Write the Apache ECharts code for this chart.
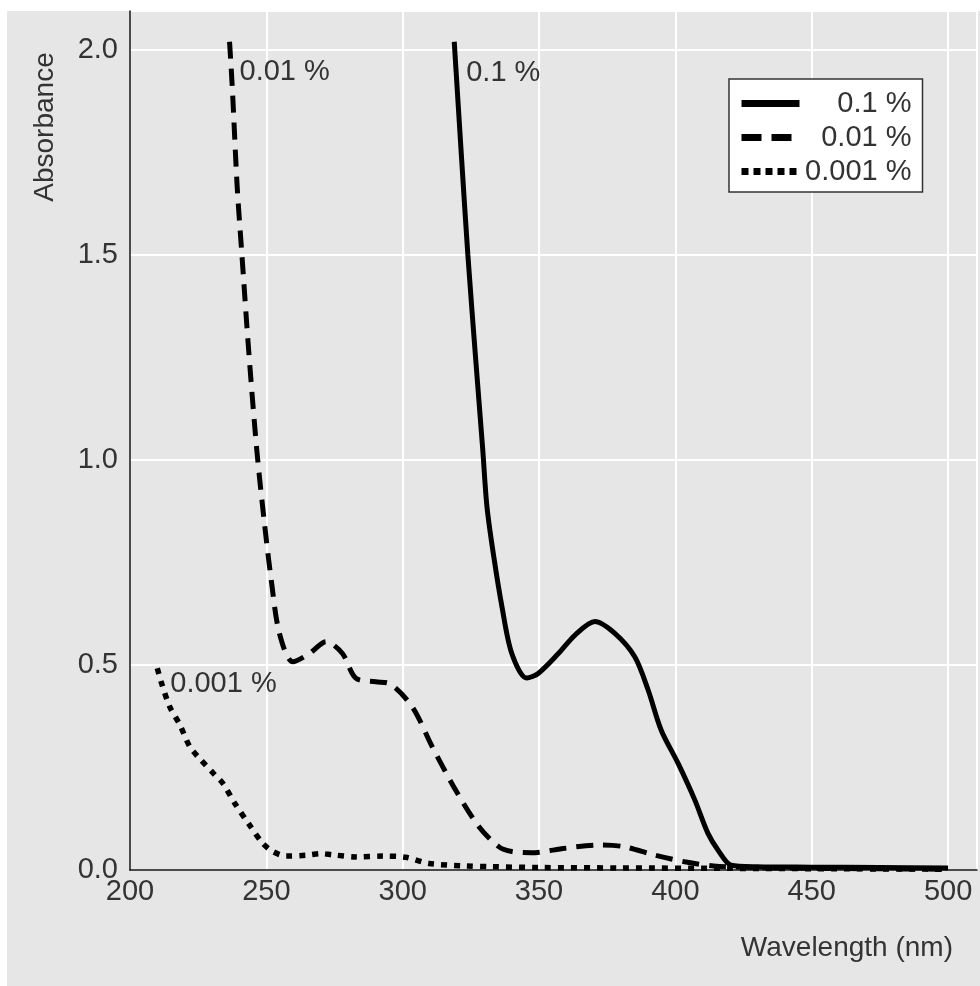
<!DOCTYPE html>
<html>
<head>
<meta charset="utf-8">
<script src="https://cdn.jsdelivr.net/npm/echarts@6/dist/echarts.min.js"></script>
<style>
html,body{margin:0;padding:0;background:#fff;}
#chart{width:980px;height:986px;}
</style>
</head>
<body>
<div id="chart"></div>
<script>
// Series names
const seriesNames = ['0.1 %', '0.01 %', '0.001 %'];

// 0.1 % (solid)
const wl01 = [318.9, 321.5, 323.9, 326.6, 329.3, 330.9, 333.4, 336.4, 340, 345.5, 349.8, 357.1, 363.2, 370.5, 377.8, 385.1, 390, 394.8, 401, 407.1, 411.9, 415.6, 420.4, 430, 450, 475, 500];
const abs01 = [2.02, 1.745, 1.50, 1.26, 1.03, 0.886, 0.764, 0.642, 0.528, 0.468, 0.48, 0.528, 0.573, 0.606, 0.577, 0.52, 0.439, 0.341, 0.26, 0.171, 0.09, 0.049, 0.012, 0.008, 0.007, 0.006, 0.005];

// 0.01 % (dashed)
const wl001 = [236.5, 237.5, 239.3, 241.0, 243.6, 246.5, 249.3, 251.8, 254.8, 259.7, 265.8, 271.9, 277.9, 282.8, 290.1, 295, 303.5, 310.8, 319.4, 327.9, 335.2, 340, 347.3, 359.5, 371.7, 381, 392, 403.4, 414, 430, 450, 475, 500];
const abs001 = [2.02, 1.91, 1.667, 1.504, 1.26, 1.024, 0.846, 0.707, 0.577, 0.508, 0.528, 0.557, 0.528, 0.468, 0.459, 0.455, 0.398, 0.301, 0.195, 0.106, 0.057, 0.045, 0.042, 0.053, 0.061, 0.057, 0.037, 0.02, 0.01, 0.006, 0.004, 0.003, 0.002];

// 0.001 % (dotted)
const wl0001 = [210, 211.6, 214.6, 218.3, 221.9, 225, 231.1, 234.1, 238.4, 243.8, 248.7, 252.4, 257.3, 264.6, 270, 274.3, 282.8, 292.6, 301.1, 309.6, 323, 332.7, 350, 380, 420, 460, 500];
const abs0001 = [0.492, 0.455, 0.398, 0.354, 0.301, 0.276, 0.232, 0.211, 0.163, 0.11, 0.065, 0.045, 0.034, 0.036, 0.04, 0.037, 0.032, 0.034, 0.031, 0.016, 0.01, 0.008, 0.006, 0.005, 0.004, 0.003, 0.002];

// Axis ticks
const xTicks = [200, 250, 300, 350, 400, 450, 500];
const yTicks = [0.0, 0.5, 1.0, 1.5, 2.0];

const TXT = '#333333';
const FONT = 'Liberation Sans, Arial, sans-serif';
const FS = 29;

function pairs(xs, ys) { return xs.map((x, i) => [x, ys[i]]); }

function withStartLabel(data, dx, dy, text) {
  const d = data.slice();
  d[0] = {
    value: d[0],
    label: {
      show: true, position: 'right', distance: 0, offset: [dx, dy],
      formatter: text, color: TXT, fontSize: FS, fontFamily: FONT
    }
  };
  return d;
}

const chart = echarts.init(document.getElementById('chart'), null, {renderer: 'canvas'});

const isTick = (v, arr) => arr.some(t => Math.abs(t - v) < 1e-6);

const hiddenMark = {color: 'rgba(0,0,0,0)', borderWidth: 0, opacity: 0};

function lineSeries(idx, xs, ys, dash, width, z, dx, dy) {
  return {
    name: seriesNames[idx], type: 'line',
    showSymbol: true, symbol: 'circle', symbolSize: 0.01,
    smooth: 0.3, z: z,
    lineStyle: {color: '#000', width: width, type: dash, cap: 'butt'},
    itemStyle: {color: '#000'},
    label: {show: false},
    emphasis: {disabled: true},
    data: withStartLabel(pairs(xs, ys), dx, dy, seriesNames[idx])
  };
}

const option = {
  animation: false,
  textStyle: {fontFamily: FONT},
  graphic: [
    {type: 'rect', z: -10, shape: {x: 7, y: 11, width: 973, height: 975}, style: {fill: '#e6e6e6'}},
    {type: 'text', x: 45, y: 127, rotation: Math.PI / 2, style: {text: 'Absorbance', font: '28px ' + FONT, fill: TXT, align: 'center', verticalAlign: 'middle'}},
    {type: 'text', x: 953, y: 948, style: {text: 'Wavelength (nm)', font: '28px ' + FONT, fill: TXT, align: 'right', verticalAlign: 'middle'}}
  ],
  grid: {left: 130, right: 0, top: 11, bottom: 116, containLabel: false},
  xAxis: {
    type: 'value', min: 200, max: 510.6, interval: 50,
    axisLine: {show: true, lineStyle: {color: '#111', width: 1.5}},
    axisTick: {show: false},
    axisLabel: {
      color: TXT, fontSize: FS, margin: 7, fontFamily: FONT,
      formatter: v => isTick(v, xTicks) ? String(v) : ''
    },
    splitLine: {show: true, lineStyle: {color: '#ffffff', width: 2}}
  },
  yAxis: {
    type: 'value', min: 0, max: 2.095, interval: 0.5,
    axisLine: {show: true, lineStyle: {color: '#111', width: 1.5}},
    axisTick: {show: false},
    axisLabel: {
      color: TXT, fontSize: FS, margin: 12, fontFamily: FONT,
      formatter: v => isTick(v, yTicks) ? v.toFixed(1) : ''
    },
    splitLine: {show: true, lineStyle: {color: '#ffffff', width: 2}}
  },
  legend: {
    orient: 'vertical', left: 729, top: 79,
    padding: [10, 11, 6, 9],
    itemWidth: 58, itemHeight: 20, itemGap: 5,
    backgroundColor: '#ffffff', borderColor: '#333', borderWidth: 1.5, borderRadius: 0,
    selectedMode: false,
    formatter: '{t|{name}}',
    textStyle: {
      fontSize: FS, color: TXT, fontFamily: FONT,
      rich: {t: {width: 107, height: 28, lineHeight: 28, align: 'right', fontSize: FS, color: TXT, fontFamily: FONT}}
    },
    data: [
      {name: seriesNames[0], itemStyle: hiddenMark, lineStyle: {width: 7, type: 'solid', color: '#000', cap: 'butt'}},
      {name: seriesNames[1], itemStyle: hiddenMark, lineStyle: {width: 7, type: [20, 10], color: '#000', cap: 'butt'}},
      {name: seriesNames[2], itemStyle: hiddenMark, lineStyle: {width: 7, type: [7, 5], color: '#000', cap: 'butt'}}
    ]
  },
  series: [
    lineSeries(0, wl01, abs01, 'solid', 5, 5, 12, 31),
    lineSeries(1, wl001, abs001, [17, 10], 5, 4, 10, 30),
    lineSeries(2, wl0001, abs0001, [6, 7], 5.5, 3, 13, 16)
  ]
};

chart.setOption(option);
</script>
</body>
</html>
